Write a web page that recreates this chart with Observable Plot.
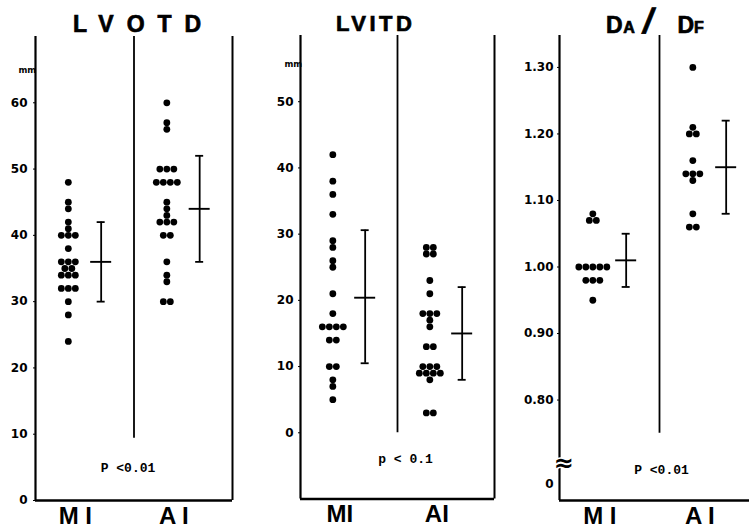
<!DOCTYPE html>
<html><head><meta charset="utf-8">
<script src="https://cdn.jsdelivr.net/npm/d3@7"></script>
<script src="https://cdn.jsdelivr.net/npm/@observablehq/plot@0.6"></script>
<style>
html,body{margin:0;padding:0;background:#fff;overflow:hidden;width:749px;height:528px}
#wrap{position:relative;width:749px;height:528px;overflow:hidden;background:#fff}
.panel{position:absolute;top:0}
.panel svg{max-width:none !important;display:block}
.title{position:absolute;display:flex;align-items:baseline;line-height:1;font-family:"Liberation Sans",Arial,sans-serif;font-weight:bold;color:#000;white-space:nowrap;-webkit-text-stroke:0.7px #000}
</style></head>
<body><div id="wrap"></div>
<script>
// ---------- data ----------
const lvotdTitle = "LVOTD";
const lvotdGroups = ["M I", "A I"];
const lvotdMI = [48,45,44,42,41,40,40,40,38,36,36,36,35,35,34,34,34,32,32,32,30,28,24];
const lvotdAI = [60,57,56,50,50,50,48,48,48,48,45,44,43,42,42,42,40,40,36,34,33,30,30];
const lvotdMean = [36, 44];
const lvotdLow = [30, 36];
const lvotdHigh = [42, 52];
const lvotdTicks = [0,10,20,30,40,50,60];
const lvotdP = "P <0.01";

const lvitdTitle = "LVITD";
const lvitdGroups = ["MI", "AI"];
const lvitdMI = [42,38,36,33,29,28,26,25,21,18,16,16,16,16,14,14,10,10,8,7,5];
const lvitdAI = [28,28,27,27,23,21,18,18,18,17,16,13,13,10,10,10,9,9,9,9,8,3,3];
const lvitdMean = [20.4, 15];
const lvitdLow = [10.5, 8];
const lvitdHigh = [30.6, 22];
const lvitdTicks = [0,10,20,30,40,50];
const lvitdP = "p < 0.1";

const ratioGroups = ["M I", "A I"];
const ratioMI = [1.08,1.07,1.07,1.00,1.00,1.00,1.00,1.00,0.98,0.98,0.98,0.95];
const ratioAI = [1.30,1.21,1.20,1.20,1.16,1.14,1.14,1.14,1.13,1.08,1.06,1.06];
const ratioMean = [1.01, 1.15];
const ratioLow = [0.97, 1.08];
const ratioHigh = [1.05, 1.22];
const ratioTicks = [0.8,0.9,1.0,1.1,1.2,1.3];
const ratioP = "P <0.01";

// ---------- layout helpers ----------
function swarm(values, cx, step) {
  const counts = d3.rollup(values, v => v.length, d => d);
  const seen = new Map();
  return values.map(v => {
    const n = counts.get(v), i = seen.get(v) || 0;
    seen.set(v, i + 1);
    return {v, x: cx + (i - (n - 1) / 2) * step};
  });
}

function panel(cfg) {
  const {left, width, ml, mr, mt, mb, yDomain, ticks, fmt, groups, mi, ai, mean, low, high,
         divFrom, pText, pdx, pdy, tickPad, mm, brk} = cfg;
  const unit = (width - ml - mr) / 3;
  const step = 7 / unit, cap = 4 / unit, half = 10.5 / unit;
  const pos = [0.5, 2.0], barPos = [1.0, 2.5];
  const dots = [...swarm(mi, pos[0], step), ...swarm(ai, pos[1], step)];
  const stats = mean.map((m, i) => ({x: barPos[i], mean: m, lo: low[i], hi: high[i]}));
  const [y0, y1] = yDomain;
  const marks = [
    Plot.ruleX([0], {y1: y0, y2: y1, strokeWidth: 2.2}),
    Plot.ruleX([3], {y1: y0, y2: y1, strokeWidth: 2}),
    Plot.ruleY([y0], {x1: 0, x2: 3, strokeWidth: 2.4}),
    Plot.ruleX([1.5], {y1: divFrom, y2: y1, strokeWidth: 1.8}),
    Plot.ruleX(stats, {x: "x", y1: "lo", y2: "hi", strokeWidth: 1.8}),
    Plot.ruleY(stats, {y: "lo", x1: d => d.x - cap, x2: d => d.x + cap, strokeWidth: 1.8}),
    Plot.ruleY(stats, {y: "hi", x1: d => d.x - cap, x2: d => d.x + cap, strokeWidth: 1.8}),
    Plot.ruleY(stats, {y: "mean", x1: d => d.x - half, x2: d => d.x + half, strokeWidth: 1.9}),
    Plot.dot(dots, {x: "x", y: "v", r: 3.4, fill: "black"}),
    Plot.axisY({ticks, tickFormat: fmt, tickSize: 2, tickPadding: tickPad, fontSize: 12,
                fontWeight: "bold", fontFamily: "DejaVu Sans", label: null}),
    Plot.axisX({ticks: pos, tickFormat: d => groups[d < 1 ? 0 : 1], tickSize: 0, tickPadding: 6,
                fontSize: 24, fontWeight: "bold", fontFamily: "Liberation Sans", dx: 7, label: null}),
    Plot.text([pText], {text: d => d, frameAnchor: "bottom", dx: pdx, dy: pdy,
                fontFamily: "Liberation Mono", fontWeight: "bold", fontSize: 13})
  ];
  if (mm) marks.push(Plot.text(["mm"], {text: d => d, frameAnchor: "top-left", dx: mm[0], dy: mm[1],
                fontSize: 8.5, fontWeight: "bold", fontFamily: "DejaVu Sans"}));
  if (brk) {
    marks.push(Plot.text(["≈"], {text: d => d, frameAnchor: "bottom-left", dx: -6, dy: -30, fontSize: 24,
                fontWeight: "bold", fontFamily: "DejaVu Sans", fill: "black", stroke: "white",
                strokeWidth: 3, paintOrder: "stroke"}));
    marks.push(Plot.text(["0"], {text: d => d, frameAnchor: "bottom-left", dx: -6, dy: -13,
                textAnchor: "end", fontSize: 12, fontWeight: "bold", fontFamily: "DejaVu Sans"}));
  }
  const svg = Plot.plot({
    width, height: 528, marginLeft: ml, marginRight: mr, marginTop: mt, marginBottom: mb,
    x: {domain: [0, 3]},
    y: {domain: yDomain},
    style: {background: "white", color: "black", overflow: "visible"},
    marks
  });
  const div = document.createElement("div");
  div.className = "panel";
  div.style.left = left + "px";
  div.appendChild(svg);
  document.getElementById("wrap").appendChild(div);
}

panel({left: 0, width: 250, ml: 35, mr: 18, mt: 36, mb: 28, yDomain: [0, 70],
  ticks: lvotdTicks, fmt: d3.format("d"), groups: lvotdGroups,
  mi: lvotdMI, ai: lvotdAI, mean: lvotdMean, low: lvotdLow, high: lvotdHigh,
  divFrom: 9.4, pText: lvotdP, pdx: -6, pdy: -29, tickPad: 6, mm: [-17, 30]});

panel({left: 250, width: 250, ml: 50, mr: 6, mt: 35, mb: 29.5, yDomain: [-10, 60],
  ticks: lvitdTicks, fmt: d3.format("d"), groups: lvitdGroups,
  mi: lvitdMI, ai: lvitdAI, mean: lvitdMean, low: lvitdLow, high: lvitdHigh,
  divFrom: 0, pText: lvitdP, pdx: 8, pdy: -36, tickPad: 5, mm: [-16, 25]});

panel({left: 500, width: 259, ml: 59, mr: 0, mt: 35, mb: 28, yDomain: [0.649, 1.348],
  ticks: ratioTicks, fmt: d3.format(".2f"), groups: ratioGroups,
  mi: ratioMI, ai: ratioAI, mean: ratioMean, low: ratioLow, high: ratioHigh,
  divFrom: 0.75, pText: ratioP, pdx: 2, pdy: -27, tickPad: 4, brk: true});

// ---------- titles ----------
function title(left, top, parts) {
  const div = document.createElement("div");
  div.className = "title";
  div.style.left = left + "px";
  div.style.top = top + "px";
  for (const p of parts) {
    const s = document.createElement("span");
    s.textContent = p.t;
    s.style.fontSize = p.fs + "px";
    if (p.ls) s.style.letterSpacing = p.ls + "px";
    if (p.ml) s.style.marginLeft = p.ml + "px";
    if (p.sk) { s.style.display = "inline-block"; s.style.transform = p.sk; }
    div.appendChild(s);
  }
  document.getElementById("wrap").appendChild(div);
}
title(73, 12.5, [{t: lvotdTitle, fs: 23, ls: 13}]);
title(336, 13.4, [{t: lvitdTitle, fs: 22, ls: 3.5}]);
title(606, 2.5, [{t: "D", fs: 23}, {t: "A", fs: 16, ml: 0.5}, {t: "/", fs: 35, ml: 9, sk: "skewX(-12deg)"},
                 {t: "D", fs: 23, ml: 24}, {t: "F", fs: 16}]);
</script>
</body></html>
